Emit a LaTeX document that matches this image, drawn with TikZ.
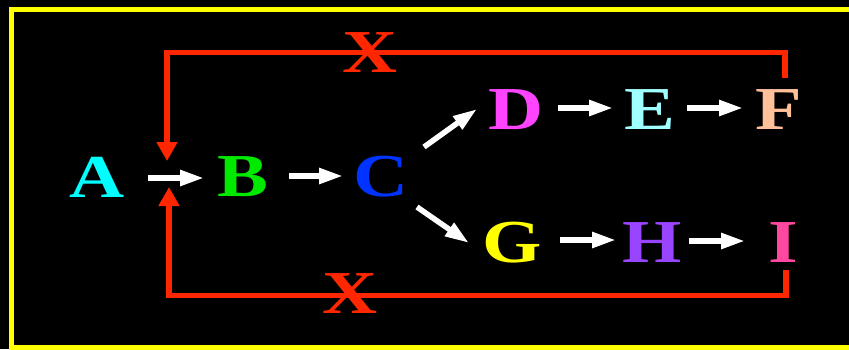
\documentclass[tikz,border=0pt]{standalone}
\usepackage{fontspec}
\setmainfont{Liberation Serif}[FakeStretch=1.25]
\usetikzlibrary{arrows.meta,calc}
\definecolor{redx}{RGB}{255,38,0}
\definecolor{cA}{RGB}{0,255,255}
\definecolor{cB}{RGB}{0,234,0}
\definecolor{cC}{RGB}{0,51,255}
\definecolor{cD}{RGB}{255,68,255}
\definecolor{cE}{RGB}{160,255,255}
\definecolor{cF}{RGB}{255,192,154}
\definecolor{cG}{RGB}{255,255,0}
\definecolor{cH}{RGB}{153,68,255}
\definecolor{cI}{RGB}{255,72,160}
\definecolor{yel}{RGB}{255,255,0}
\tikzset{
  letter/.style={inner sep=0pt, font=\fontsize{61}{61}\selectfont\bfseries},
  wa/.style={white, line width=5.5pt, -{Triangle[length=24pt,width=15pt]}},
  ra/.style={redx, line width=5.5pt, -{Triangle[length=19pt,width=20pt]}},
}
\begin{document}
\begin{tikzpicture}[x=1pt,y=-1pt]
\fill[black] (0,0) rectangle (849,349);
\useasboundingbox (0,0) rectangle (849,349);
\draw[yel, line width=5.5pt] (11.5,9.5) rectangle (880,347.5);
% letters
\node[letter, text=cA] (A) at (97,177) {A};
\node[letter, text=cB] (B) at (243,177) {B};
\node[letter, text=cC] (C) at (381,177) {C};
\node[letter, text=cD] (D) at (516,110) {D};
\node[letter, text=cE] (E) at (650,110) {E};
\node[letter, text=cF] (F) at (779,110) {F};
\node[letter, text=cG] (G) at (512,243) {G};
\node[letter, text=cH] (H) at (652,243) {H};
\node[letter, text=cI] (I) at (783,243) {I};
% white arrows
\draw[wa] ($(A.center)+(51,1)$) -- ($(B.center)+(-39,1)$);
\draw[wa] ($(B.center)+(46,-1)$) -- ($(C.center)+(-38,-1)$);
\draw[wa] ($(C.center)+(43,-30)$) -- ($(D.center)+(-39,-1)$);
\draw[wa] ($(C.center)+(36,30)$) -- ($(G.center)+(-43,0)$);
\draw[wa] ($(D.center)+(42,-2)$) -- ($(E.center)+(-37,-2)$);
\draw[wa] ($(E.center)+(37,-2)$) -- ($(F.center)+(-36,-2)$);
\draw[wa] ($(G.center)+(48,-3)$) -- ($(H.center)+(-36,-3)$);
\draw[wa] ($(H.center)+(37,-2)$) -- ($(I.center)+(-38,-2)$);
% feedback paths
\coordinate (fs) at ($(F.center)+(6,-32)$);
\coordinate (is) at ($(I.center)+(3,27)$);
\coordinate (jt) at (167,161);
\coordinate (jb) at (169,187);
\coordinate (lt) at (370,52.5);
\coordinate (lb) at (350,295.5);
\draw[ra] (fs) |- (lt) -| (jt);
\draw[ra] (is) |- (lb) -| (jb);
\node[letter, text=redx] (xt) at (370,53) {X};
\node[letter, text=redx] (xb) at (350,294) {X};
\end{tikzpicture}
\end{document}
